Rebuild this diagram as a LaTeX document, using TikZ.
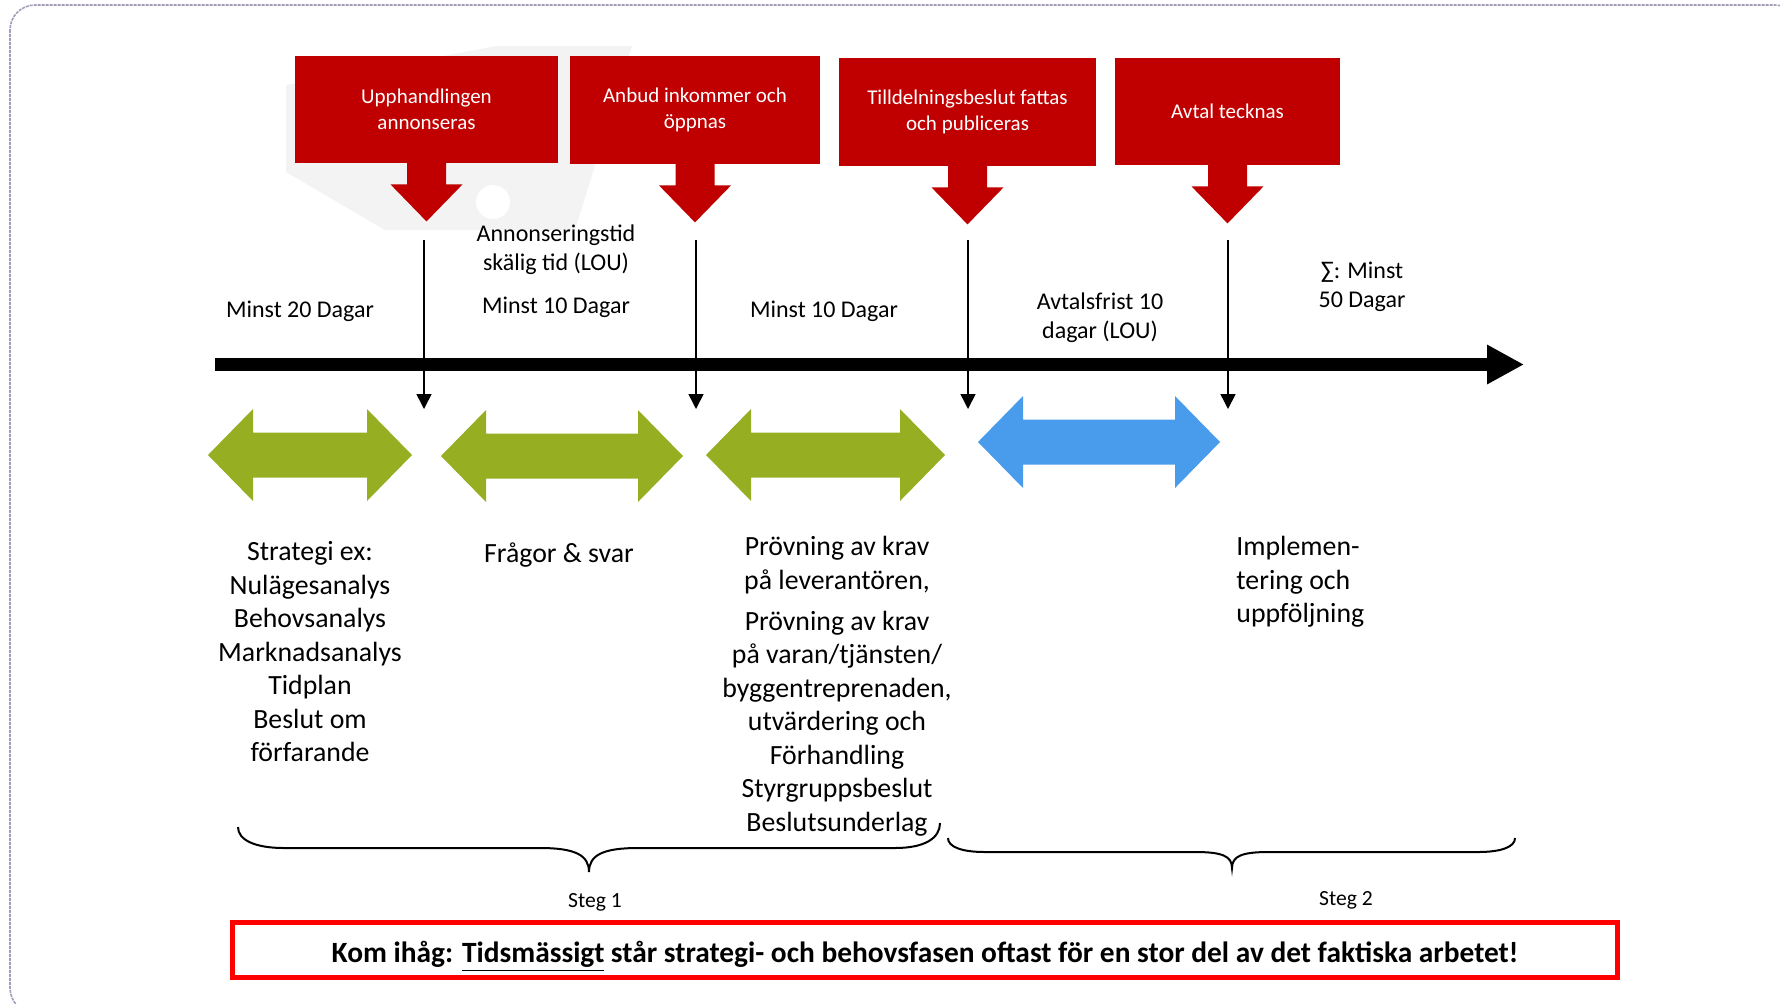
\documentclass[tikz,border=0pt]{standalone}
\usepackage{fontspec}
\setmainfont{Carlito}
\usepackage{tikz}
\usetikzlibrary{arrows.meta,calc}
\definecolor{boxred}{RGB}{192,0,0}
\definecolor{phasegreen}{RGB}{150,174,34}
\definecolor{phaseblue}{RGB}{73,155,235}
\definecolor{framegray}{RGB}{165,155,185}
\definecolor{markgray}{RGB}{243,243,243}

\begin{document}
\begin{tikzpicture}[x=0.5pt, y=-0.5pt, % 1 unit = 1 pixel, y downwards
  redbox/.style={fill=boxred, text=white, align=center, inner sep=0pt, font=\fontsize{10.5}{13}\selectfont},
  lbl/.style={align=center, inner sep=0pt, font=\fontsize{12}{14.5}\selectfont},
  big/.style={inner sep=0pt, font=\fontsize{13.9}{16.75}\selectfont},
  tick/.style={line width=0.75pt, -{Triangle[length=7.5pt,width=7.5pt]}},
  brace/.style={line width=1pt}]
  \useasboundingbox (0,0) rectangle (1780,1003); % page size

  \begin{scope}
    \clip (0,0) rectangle (1780,1003);
    \draw[framegray, line width=0.8pt, dash pattern=on 1.5pt off 0.5pt, rounded corners=12.5pt] (10,5) rectangle (1800,1013); % frame
  \end{scope}
  \fill[markgray] (286,85) -- (497,46) -- (632,46) -- (575,230) -- (385,230) -- (286,172) -- cycle; % faint logo
  \fill[white] (493,202) circle (8.5pt);

  % events
  \node[redbox, minimum width=131.5pt, minimum height=53.5pt] (annons) at (426.5,109.5) {Upphandlingen\\annonseras};
  \node[redbox, minimum width=125pt, minimum height=54pt] (anbud) at (695,110) {Anbud inkommer och\\öppnas};
  \node[redbox, minimum width=128.5pt, minimum height=54pt] (tilldelning) at (967.5,112) {Tilldelningsbeslut fattas\\och publiceras};
  \node[redbox, minimum width=112.5pt, minimum height=53.5pt] (avtal) at (1227.5,111.5) {Avtal tecknas};
  \foreach \b in {annons,anbud,tilldelning,avtal}
    \fill[boxred] ($(\b.south)+(-19.5,-1)$) -- ++(0,22) -- ++(-16.5,0) -- ++(36,37) -- ++(36,-37) -- ++(-16.5,0) -- ++(0,-22) -- cycle; % callout arrow

  % time axis
  \coordinate (t0) at (215,364.5);
  \coordinate (t1) at (1524,364.5);
  \draw[line width=6.5pt, -{Triangle[length=18.5pt,width=18.5pt]}] (t0) -- (t1);
  \foreach \n/\x in {1/424,2/696,3/968,4/1228} {
    \coordinate (s\n) at (\x,240);
    \coordinate (e\n) at (\x,409);
    \draw[tick] (s\n) -- (e\n);
  }

  % phases
  \foreach \a/\b/\c/\col in {208/412/455/phasegreen, 441/683/456/phasegreen, 706/945/455/phasegreen, 978/1220/442/phaseblue}
    \fill[\col] (\a,\c) -- (\a+45,\c-46) -- (\a+45,\c-22.5) -- (\b-45,\c-22.5) -- (\b-45,\c-46) -- (\b,\c)
      -- (\b-45,\c+46) -- (\b-45,\c+22.5) -- (\a+45,\c+22.5) -- (\a+45,\c+46) -- cycle;

  % durations
  \node[lbl] (d1) at (300,311) {Minst 20 Dagar};
  \node[lbl] (lou1) at (556,250) {Annonseringstid\\skälig tid (LOU)};
  \node[lbl] (d2) at (556,307) {Minst 10 Dagar};
  \node[lbl] (d3) at (824,311) {Minst 10 Dagar};
  \node[lbl] (lou2) at (1100,317.5) {Avtalsfrist 10\\dagar (LOU)};
  \node[lbl] (sum) at (1362,287) {∑: Minst\\50 Dagar};

  % activities
  \node[big, align=center] (strategi) at (310,652) {Strategi ex:\\Nulägesanalys\\Behovsanalys\\Marknadsanalys\\Tidplan\\Beslut om\\förfarande};
  \node[big, align=center] (fragor) at (559,555) {Frågor \& svar};
  \node[big, align=center] (provning) at (837,686) {Prövning av krav\\på leverantören,\\[3.75pt]Prövning av krav\\på varan/tjänsten/\\byggentreprenaden,\\utvärdering och\\Förhandling\\Styrgruppsbeslut\\Beslutsunderlag};
  \node[big, align=left, anchor=west] (impl) at (1236,582) {Implemen-\\tering och\\uppföljning};

  % steps
  \draw[brace] (238,827) .. controls (238,840) and (255,848) .. (284,848) -- (540,848) .. controls (575,848) and (589,855) .. (589,872)
    .. controls (589,855) and (603,848) .. (638,848) -- (895,848) .. controls (925,848) and (940,838) .. (940,823);
  \draw[brace] (948,838) .. controls (948,847) and (962,852) .. (985,852) -- (1195,852) .. controls (1222,852) and (1232,856) .. (1232,868)
    .. controls (1232,856) and (1242,852) .. (1269,852) -- (1478,852) .. controls (1501,852) and (1515,847) .. (1515,838);
  \node[inner sep=0pt, font=\fontsize{10.8}{13}\selectfont] (steg1) at (595,902) {Steg 1};
  \node[inner sep=0pt, font=\fontsize{10.8}{13}\selectfont] (steg2) at (1346,900) {Steg 2};

  \node[draw=red, line width=2.5pt, minimum width=692.5pt, minimum height=27.5pt] (komihag) at (925,950) {};
  \node[inner sep=0pt, font=\fontsize{14.7}{17}\selectfont\bfseries] (komtext) at (925,956)
    {Kom ihåg: \underline{Tidsmässigt} står strategi- och behovsfasen oftast för en stor del av det faktiska arbetet!};
\end{tikzpicture}
\end{document}
